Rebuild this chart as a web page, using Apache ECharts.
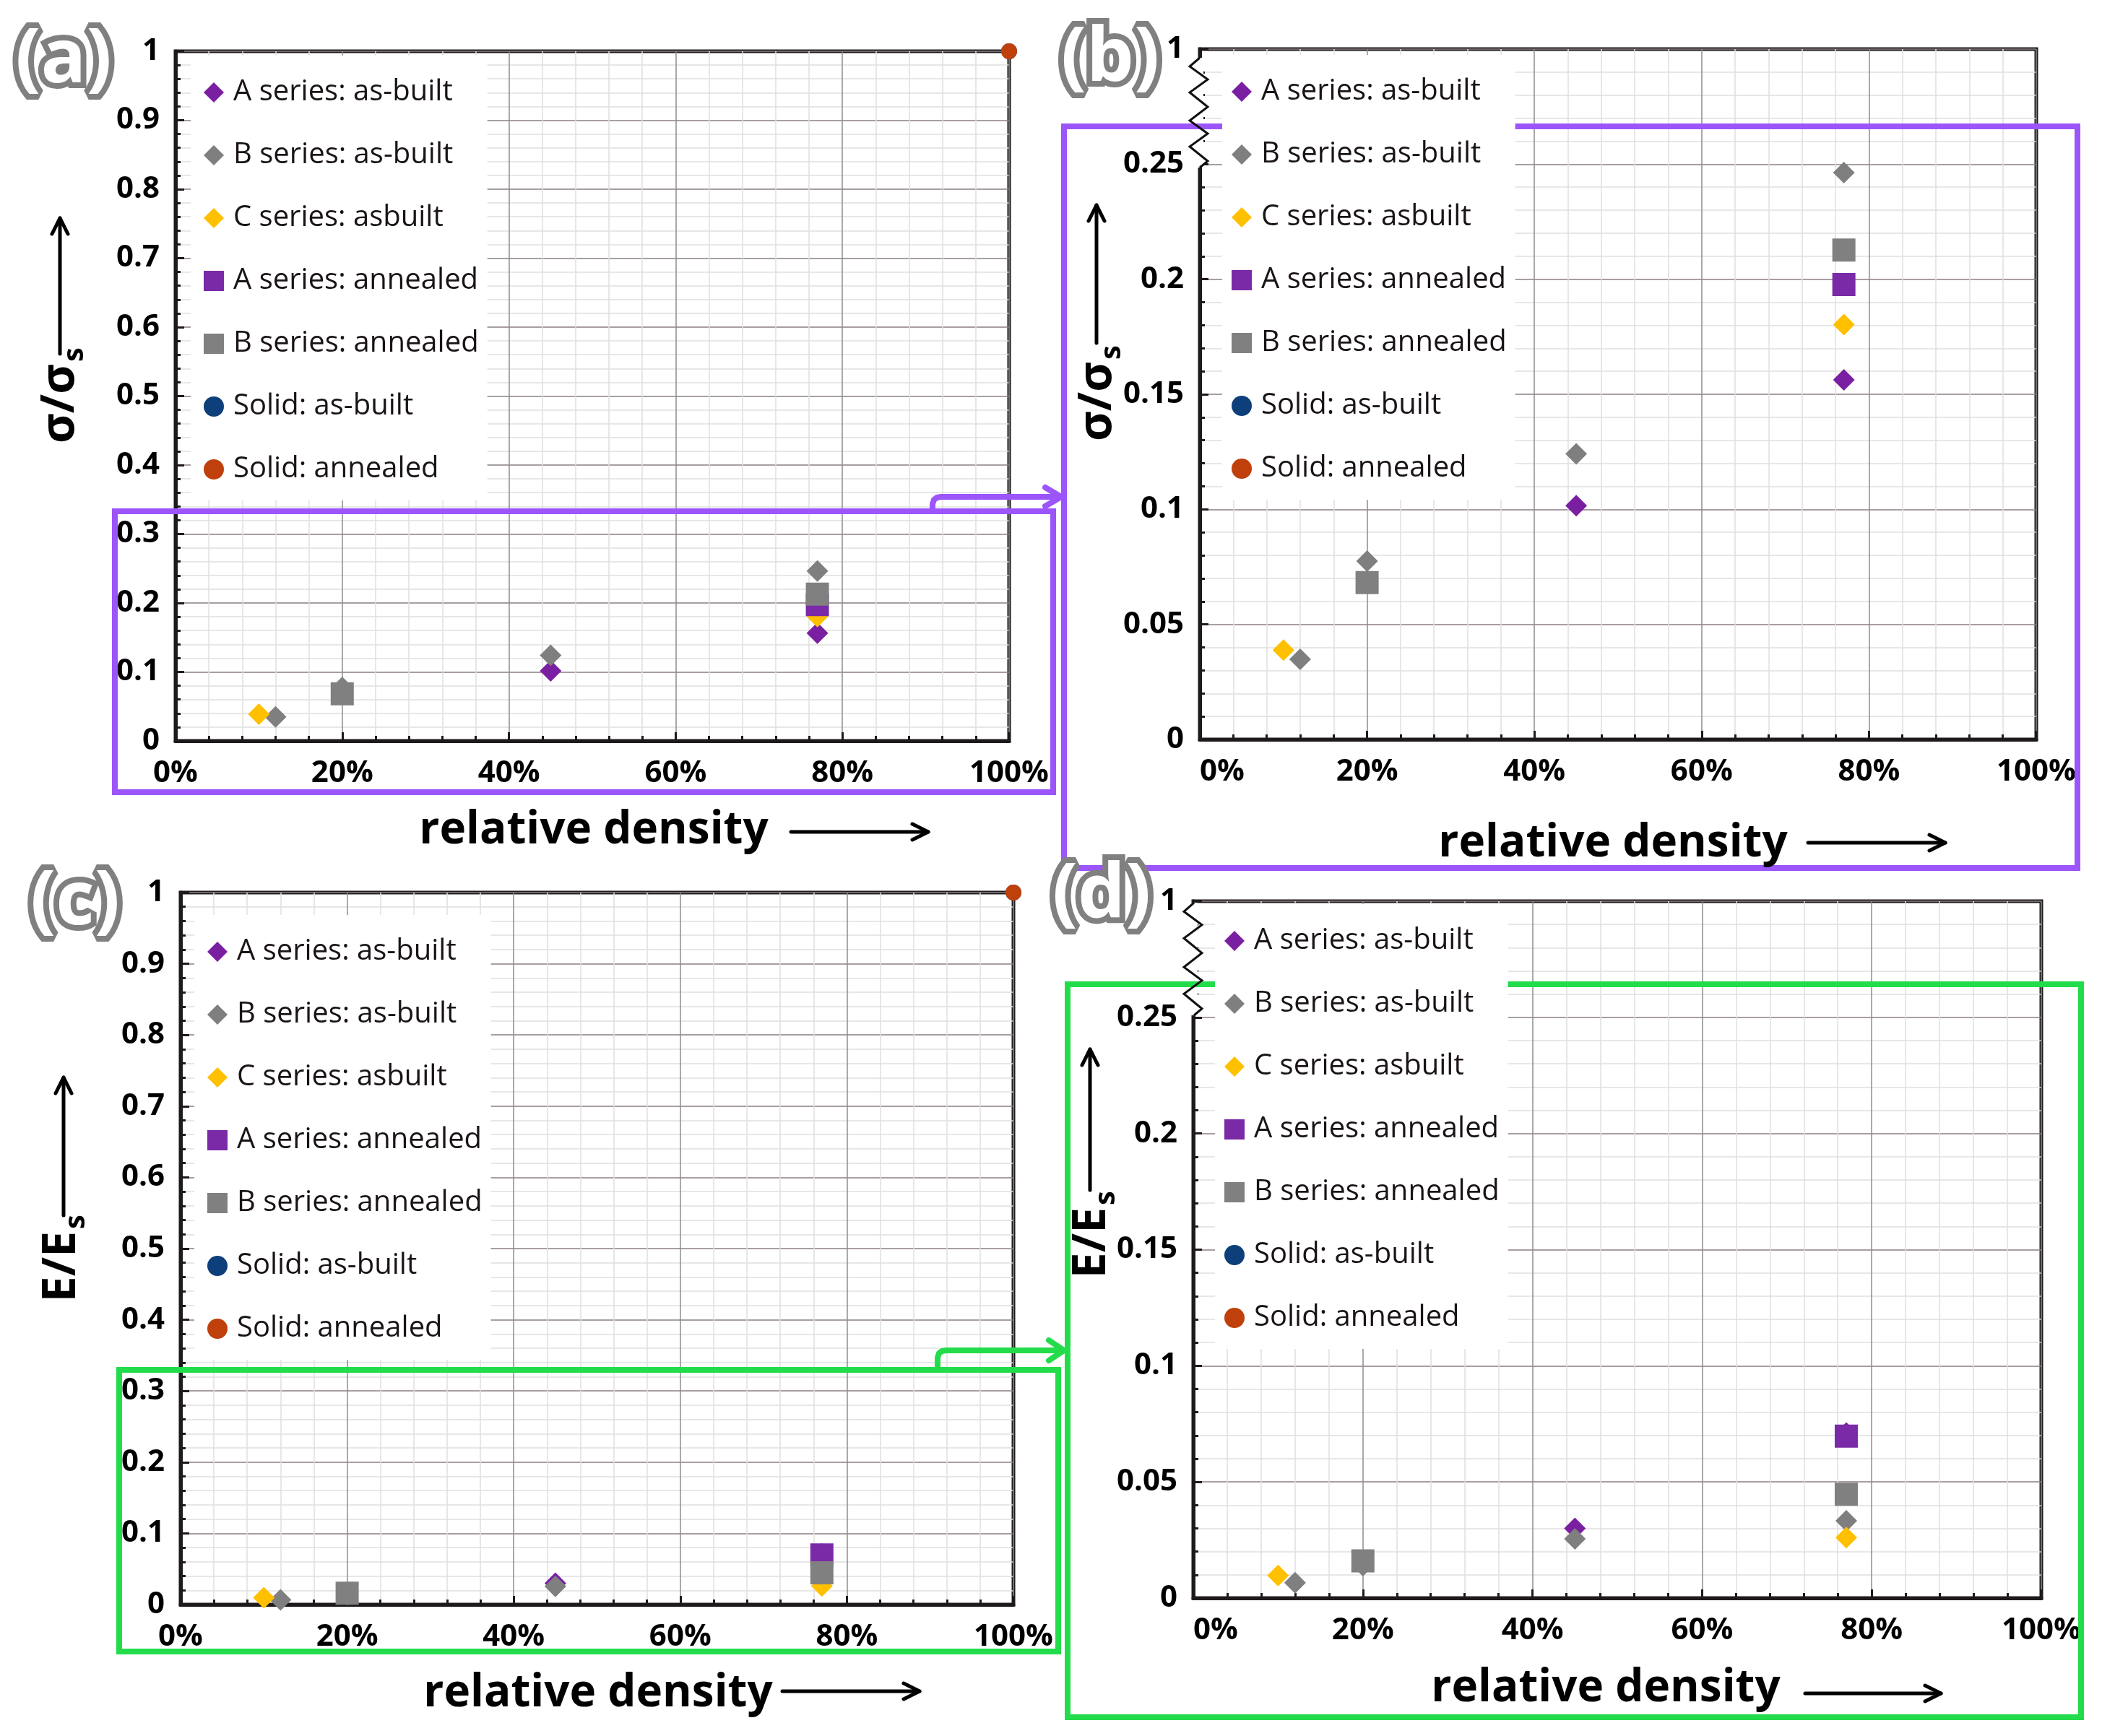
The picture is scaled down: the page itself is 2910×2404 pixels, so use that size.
<!DOCTYPE html>
<html>
<head>
<meta charset="utf-8">
<script src="https://cdn.jsdelivr.net/npm/echarts/dist/echarts.min.js"></script>
<style>
  html, body { margin: 0; padding: 0; background: #fff; }
  #main { width: 2910px; height: 2404px; }
</style>
</head>
<body>
<div id="main"></div>
<script>
// ---- data (x = relative density, s = sigma/sigma_s, e = E/E_s) ----
var SERIES_NAMES = ['A series: as-built', 'B series: as-built', 'C series: asbuilt',
                    'A series: annealed', 'B series: annealed', 'Solid: as-built', 'Solid: annealed'];

var A_ASBUILT_X = [0.45, 0.77];
var A_ASBUILT_S = [0.1016, 0.1563];
var A_ASBUILT_E = [0.030, 0.071];

var B_ASBUILT_X = [0.12, 0.20, 0.45, 0.77];
var B_ASBUILT_S = [0.0348, 0.0775, 0.1241, 0.2463];
var B_ASBUILT_E = [0.0066, 0.014, 0.0255, 0.0333];

var C_ASBUILT_X = [0.10, 0.77];
var C_ASBUILT_S = [0.0388, 0.1803];
var C_ASBUILT_E = [0.0097, 0.026];

var A_ANNEALED_X = [0.77];
var A_ANNEALED_S = [0.1977];
var A_ANNEALED_E = [0.0697];

var B_ANNEALED_X = [0.20, 0.77];
var B_ANNEALED_S = [0.0682, 0.2127];
var B_ANNEALED_E = [0.016, 0.0447];

var SOLID_X = [1.0];
var SOLID_ASBUILT_S = [1.0];
var SOLID_ASBUILT_E = [1.0];
var SOLID_ANNEALED_S = [1.0];
var SOLID_ANNEALED_E = [1.0];

var X_TICKS = [0, 0.2, 0.4, 0.6, 0.8, 1];

function pairs(xs, ys) {
    var res = [];
    for (var i = 0; i < xs.length; i++) res.push([xs[i], ys[i]]);
    return res;
}

// series look (kept apart from the values)
var looks = [
    {symbol: 'diamond', size: 30, color: '#7a1fa2', x: A_ASBUILT_X, s: A_ASBUILT_S, e: A_ASBUILT_E},
    {symbol: 'diamond', size: 30, color: '#7f7f7f', x: B_ASBUILT_X, s: B_ASBUILT_S, e: B_ASBUILT_E},
    {symbol: 'diamond', size: 30, color: '#ffc000', x: C_ASBUILT_X, s: C_ASBUILT_S, e: C_ASBUILT_E},
    {symbol: 'rect', size: 32, color: '#7a2aa6', x: A_ANNEALED_X, s: A_ANNEALED_S, e: A_ANNEALED_E},
    {symbol: 'rect', size: 32, color: '#808080', x: B_ANNEALED_X, s: B_ANNEALED_S, e: B_ANNEALED_E},
    {symbol: 'circle', size: 22, color: '#0d3f7a', x: SOLID_X, s: SOLID_ASBUILT_S, e: SOLID_ASBUILT_E},
    {symbol: 'circle', size: 22, color: '#c0400c', x: SOLID_X, s: SOLID_ANNEALED_S, e: SOLID_ANNEALED_E}
];

// four panels: (a) strength full, (b) strength zoom, (c) modulus full, (d) modulus zoom
var panels = [
    {grid: {left: 243, top: 71, width: 1154, height: 955}, prop: 's', zoom: false, legend: [264, 77, 18]},
    {grid: {left: 1661, top: 68, width: 1158, height: 956}, prop: 's', zoom: true, legend: [1692, 76, 13]},
    {grid: {left: 250, top: 1236, width: 1153, height: 986}, prop: 'e', zoom: false, legend: [269, 1267, 18]},
    {grid: {left: 1652, top: 1248, width: 1174, height: 965}, prop: 'e', zoom: true, legend: [1682, 1252, 13]}
];

var AXIS_DARK = '#1e1a1b';
var PURPLE = '#9b55fb';
var GREEN = '#23dc4b';

var grids = [], xAxes = [], yAxes = [], legends = [], series = [];

panels.forEach(function (p, g) {
    grids.push({
        left: p.grid.left, top: p.grid.top, width: p.grid.width, height: p.grid.height,
        show: true, borderColor: AXIS_DARK, borderWidth: 5, backgroundColor: '#fff'
    });
    xAxes.push({
        type: 'value', gridIndex: g, min: X_TICKS[0], max: X_TICKS[X_TICKS.length - 1], interval: 0.2,
        axisLine: {lineStyle: {color: AXIS_DARK, width: 5}},
        axisTick: {inside: true, length: 12, lineStyle: {color: AXIS_DARK, width: 3}},
        minorTick: {show: true, splitNumber: 5, length: 7, lineStyle: {color: AXIS_DARK, width: 3}},
        splitLine: {lineStyle: {color: '#8c8c8c', width: 1.5}},
        minorSplitLine: {show: true, lineStyle: {color: '#e0e0e0', width: 1.5}},
        axisLabel: {
            margin: 24, fontSize: 42, fontWeight: 'bold', fontFamily: 'Open Sans', color: '#000',
            alignMinLabel: p.zoom ? 'left' : 'center',
            formatter: function (v) { return Math.round(v * 100) + '%'; }
        }
    });
    yAxes.push({
        type: 'value', gridIndex: g, min: 0, max: p.zoom ? 0.3 : 1, interval: p.zoom ? 0.05 : 0.1,
        axisLine: {lineStyle: {color: AXIS_DARK, width: 5}},
        axisTick: {inside: true, length: 12, lineStyle: {color: AXIS_DARK, width: 3}},
        minorTick: {show: true, splitNumber: 5, length: 7, lineStyle: {color: AXIS_DARK, width: 3}},
        splitLine: {lineStyle: {color: '#8a7e84', width: 1.5}},
        minorSplitLine: {show: true, lineStyle: {color: '#e0e0e0', width: 1.5}},
        axisLabel: {
            margin: 22, fontSize: 42, fontWeight: 'bold', fontFamily: 'Open Sans', color: '#000',
            formatter: function (v) {
                // broken axis: the top of the zoomed panels is labelled 1
                if (p.zoom && Math.abs(v - 0.3) < 1e-6) return '1';
                return String(+v.toFixed(2));
            }
        }
    });
    legends.push({
        orient: 'vertical', left: p.legend[0], top: p.legend[1],
        padding: [26, 12, 18, p.legend[2]],
        backgroundColor: '#fff', itemWidth: 28, itemHeight: 28, itemGap: 37,
        selectedMode: false,
        textStyle: {fontSize: 40, fontFamily: 'Open Sans', fontWeight: 500, color: '#1a1416', lineHeight: 50, padding: [0, 0, 0, 8]},
        data: SERIES_NAMES.map(function (n, i) { return {name: n, icon: looks[i].symbol}; })
    });
    looks.forEach(function (lk, i) {
        series.push({
            type: 'scatter', name: SERIES_NAMES[i], xAxisIndex: g, yAxisIndex: g,
            symbol: lk.symbol, symbolSize: lk.size, clip: true,
            itemStyle: {color: lk.color, opacity: 1},
            emphasis: {disabled: true},
            data: pairs(lk.x, lk[p.prop])
        });
    });
});

// ---- decorations: panel letters, titles, arrows, highlight boxes, axis breaks ----
function arrow(x1, y1, x2, y2, color, w, hl, hw, z) {
    var dx = x2 - x1, dy = y2 - y1, len = Math.sqrt(dx * dx + dy * dy);
    var ux = dx / len, uy = dy / len;
    var bx = x2 - ux * hl, by = y2 - uy * hl;
    return [
        {type: 'line', z: z, shape: {x1: x1, y1: y1, x2: x2, y2: y2},
            style: {stroke: color, lineWidth: w, lineCap: 'round'}},
        {type: 'polyline', z: z,
            shape: {points: [[bx - uy * hw, by + ux * hw], [x2, y2], [bx + uy * hw, by - ux * hw]]},
            style: {stroke: color, lineWidth: w, lineCap: 'round', lineJoin: 'round', fill: null}}
    ];
}

function letter(txt, cx, cy) {
    return {type: 'text', z: 20, x: cx, y: cy, style: {
        text: txt, font: 'bold 104px "Open Sans"', fill: '#fff', stroke: '#808080', lineWidth: 16,
        textAlign: 'center', textVerticalAlign: 'middle', align: 'center', verticalAlign: 'middle'
    }};
}

function xTitle(cx, cy, ax1, ax2, ay) {
    var els = [{type: 'text', z: 20, x: cx, y: cy, style: {
        text: 'relative density', font: 'bold 62px "Open Sans"', fill: '#000',
        textAlign: 'center', textVerticalAlign: 'middle', align: 'center', verticalAlign: 'middle'
    }}];
    return els.concat(arrow(ax1, ay, ax2, ay, '#000', 5, 22, 11, 20));
}

function yTitle(main, cx, cy, axx, ay1, ay2) {
    var els = [{
        type: 'group', x: cx, y: cy, rotation: Math.PI / 2, z: 20,
        children: [
            {type: 'text', x: 30, y: 0, z: 20, style: {
                text: main, font: 'bold 64px "Open Sans"', fill: '#000',
                textAlign: 'right', textVerticalAlign: 'middle', align: 'right', verticalAlign: 'middle'}},
            {type: 'text', x: 33, y: 20, z: 20, style: {
                text: 's', font: 'bold 40px "Open Sans"', fill: '#000',
                textAlign: 'left', textVerticalAlign: 'middle', align: 'left', verticalAlign: 'middle'}}
        ]
    }];
    return els.concat(arrow(axx, ay1, axx, ay2, '#000', 5, 22, 11, 20));
}

function box(x, y, w, h, color) {
    return {type: 'rect', z: 3, shape: {x: x, y: y, width: w, height: h},
        style: {fill: null, stroke: color, lineWidth: 8}};
}

// zig-zag axis break on the zoomed panels
function axisBreak(ax, y0, y1) {
    var k = (y1 - y0) / 152;
    var offs = [[0, 0], [-14, 12], [11, 30], [-14, 48], [11, 68], [-14, 87], [11, 105], [-14, 123], [11, 143], [0, 152]];
    var pts = offs.map(function (o) { return [ax + o[0], y0 + o[1] * k]; });
    return [
        {type: 'rect', z: 2, shape: {x: ax - 5, y: y0, width: 10, height: y1 - y0}, style: {fill: '#fff'}},
        {type: 'polyline', z: 6, shape: {points: pts}, style: {stroke: '#111', lineWidth: 3, fill: null}}
    ];
}

function connector(pts, color, head) {
    var els = [{type: 'polyline', z: 3, shape: {points: pts},
        style: {stroke: color, lineWidth: 8, lineJoin: 'round', lineCap: 'round', fill: null}}];
    els.push({type: 'polyline', z: 3, shape: {points: head},
        style: {stroke: color, lineWidth: 8, lineJoin: 'round', lineCap: 'round', fill: null}});
    return els;
}

var graphics = [];
graphics.push(letter('(a)', 88, 84), letter('(b)', 1537, 82), letter('(c)', 104, 1250), letter('(d)', 1525, 1240));
graphics = graphics
    .concat(xTitle(822, 1150, 1095, 1285, 1152))
    .concat(xTitle(2233, 1168, 2503, 2693, 1167))
    .concat(xTitle(828, 2345, 1083, 1273, 2342))
    .concat(xTitle(2223, 2338, 2499, 2687, 2345))
    .concat(yTitle('σ/σ', 84, 534, 83, 490, 302))
    .concat(yTitle('σ/σ', 1520, 531, 1518, 475, 284))
    .concat(yTitle('E/E', 86, 1735, 88, 1683, 1492))
    .concat(yTitle('E/E', 1512, 1702, 1509, 1648, 1453))
    .concat([
        box(159, 708, 1299, 389, PURPLE),
        box(1473, 175, 1403, 1027, PURPLE),
        box(165, 1897, 1300, 390, GREEN),
        box(1478, 1363, 1403, 1015, GREEN)
    ])
    .concat(connector([[1291, 708], [1291, 698], [1293, 692], [1297, 689], [1303, 688], [1466, 688]], PURPLE,
        [[1447, 675], [1469, 688], [1447, 701]]))
    .concat(connector([[1298, 1897], [1298, 1880], [1300, 1874], [1304, 1871], [1310, 1870], [1470, 1870]], GREEN,
        [[1452, 1856], [1473, 1870], [1452, 1884]]))
    .concat(axisBreak(1661, 80, 232))
    .concat(axisBreak(1653, 1250, 1406));

var myChart = echarts.init(document.getElementById('main'));
var option = {
    backgroundColor: '#fff',
    animation: false,
    grid: grids,
    xAxis: xAxes,
    yAxis: yAxes,
    legend: legends,
    series: series,
    graphic: {elements: graphics}
};
myChart.setOption(option);
</script>
</body>
</html>
